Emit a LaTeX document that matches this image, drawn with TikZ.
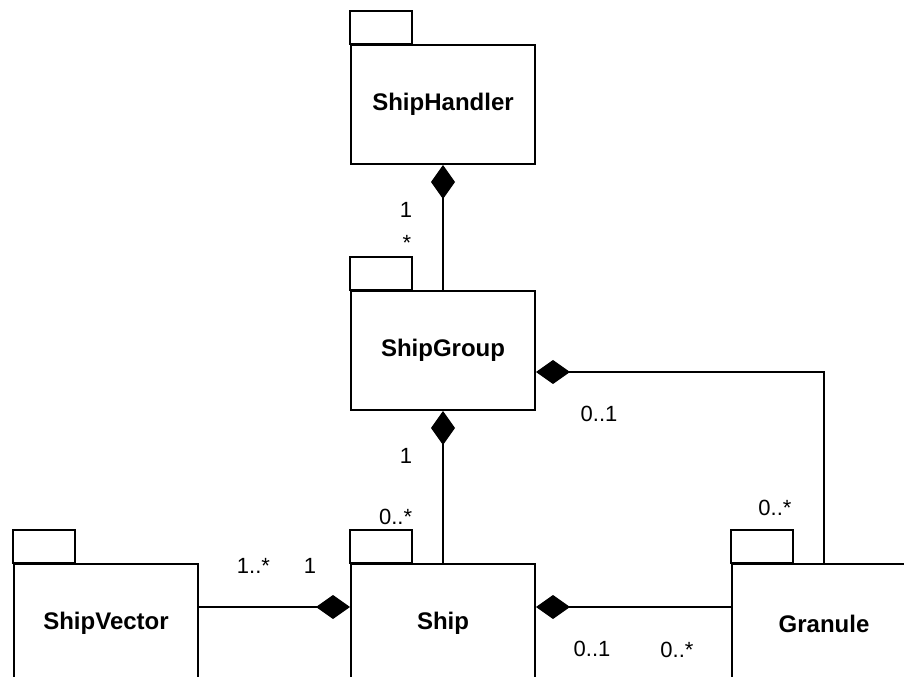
\documentclass[tikz,border=0pt]{standalone}
\usepackage{fontspec}
\setmainfont{Liberation Sans}
\usetikzlibrary{arrows.meta,calc}
\tikzset{
  pkg/.style={draw, line width=1.5pt, minimum width=184*0.75pt, minimum height=119*0.75pt, inner sep=0pt,
    font=\bfseries\fontsize{18}{20}\selectfont},
  tabbox/.style={draw, line width=1.5pt},
  comp/.style={line width=0.9pt, -{Diamond[length=25.5pt, width=18pt]}},
  lbl/.style={anchor=base, inner sep=0pt, font=\fontsize{16.5}{18}\selectfont}
}
\newcommand{\pkgtab}[1]{\draw[tabbox] (#1.north west) rectangle ++(61.5,-33);}
\begin{document}
\begin{tikzpicture}[x=0.75pt, y=-0.75pt]
\useasboundingbox (0,0) rectangle (904,677);
\clip (0,0) rectangle (904,677);
\fill[white] (0,0) rectangle (904,677);

\node[pkg] (handler) at (443,104.5) {ShipHandler};
\node[pkg] (group) at (443,350.5) {ShipGroup};
\node[pkg] (ship) at (443,623.5) {Ship};
\node[pkg] (vector) at (106,623.5) {ShipVector};
\node[pkg] (granule) at (824,623.5) {Granule};
\pkgtab{handler}
\pkgtab{group}
\pkgtab{ship}
\pkgtab{vector}
\pkgtab{granule}

\draw[comp] (group.north) -- (handler.south);
\draw[comp] (ship.north) -- (group.south);
\draw[comp] ($(vector.east)+(0,-16.5)$) -- ($(ship.west)+(0,-16.5)$);
\draw[comp] ($(granule.west)+(0,-16.5)$) -- ($(ship.east)+(0,-16.5)$);
\draw[comp] (granule.north) |- ($(group.east)+(0,21.5)$);

\node[lbl] (l1) at (406,218) {1};
\node[lbl] (l2) at (407,251) {*};
\node[lbl] (l3) at (599,421.7) {0..1};
\node[lbl] (l4) at (406,464) {1};
\node[lbl] (l5) at (395.6,524) {0..*};
\node[lbl] (l6) at (253.5,573) {1..*};
\node[lbl] (l7) at (310,573) {1};
\node[lbl] (l8) at (592,656) {0..1};
\node[lbl] (l9) at (677,657) {0..*};
\node[lbl] (l10) at (775,515) {0..*};
\end{tikzpicture}
\end{document}
